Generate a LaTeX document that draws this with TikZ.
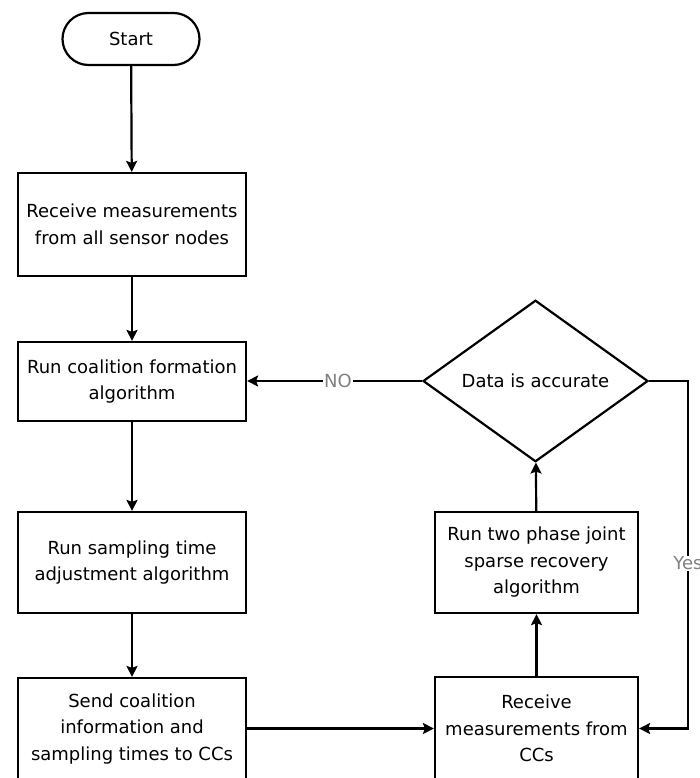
\documentclass[tikz,border=0pt]{standalone}
\usepackage{fontspec}
\setmainfont{DejaVu Sans}
\usetikzlibrary{shapes.geometric,arrows.meta}
\begin{document}
\begin{tikzpicture}[x=1pt,y=-1pt,
  every node/.style={font=\fontsize{18}{26.5}\selectfont, align=center},
  procbox/.style={draw, line width=2.2pt, inner sep=0pt, minimum width=228pt},
  termbox/.style={draw, line width=2.2pt, rounded corners=26pt, minimum width=137pt, minimum height=52pt, inner sep=0pt},
  decbox/.style={draw, shape=diamond, line width=2.2pt, inner sep=0pt, minimum width=225pt, minimum height=100pt},
  flow/.style={line width=2.2pt, -{Stealth[length=11pt,width=11pt,inset=2pt]}},
  lbl/.style={fill=white, text=gray, inner sep=1pt}
]
\useasboundingbox (0,0) rectangle (699,778);
\node[termbox] (start) at (131,39) {Start};
\node[procbox, minimum height=103pt] (b1) at (132,224.5) {Receive measurements\\from all sensor nodes};
\node[procbox, minimum height=79pt] (b2) at (132,381.5) {Run coalition formation\\algorithm};
\node[procbox, minimum height=101pt] (b3) at (132,562.5) {Run sampling time\\adjustment algorithm};
\node[procbox, minimum height=102pt] (b4) at (132,729) {Send coalition\\information and\\sampling times to CCs};
\node[decbox] (dec) at (535.5,381) {Data is accurate};
\node[procbox, minimum width=203pt, minimum height=101pt] (b5) at (536.5,562.5) {Run two phase joint\\sparse recovery\\algorithm};
\node[procbox, minimum width=203pt, minimum height=103pt] (b6) at (536.5,728.5) {Receive\\measurements from\\CCs};
\coordinate (yc) at (688,381);

\draw[flow] (start) -- (b1);
\draw[flow] (b1) -- (b2);
\draw[flow] (b2) -- (b3);
\draw[flow] (b3) -- (b4);
\draw[flow] (b4.east |- b6.west) -- (b6.west);
\draw[flow] (b6) -- (b5);
\draw[flow] (b5) -- (dec);
\draw[flow] (dec.west) -- node[lbl, pos=0.48]{NO} (b2.east |- dec.west);
\draw[flow] (dec.east) -- (yc) -- node[lbl, pos=0.525]{Yes} (yc |- b6.east) -- (b6.east);
\end{tikzpicture}
\end{document}
